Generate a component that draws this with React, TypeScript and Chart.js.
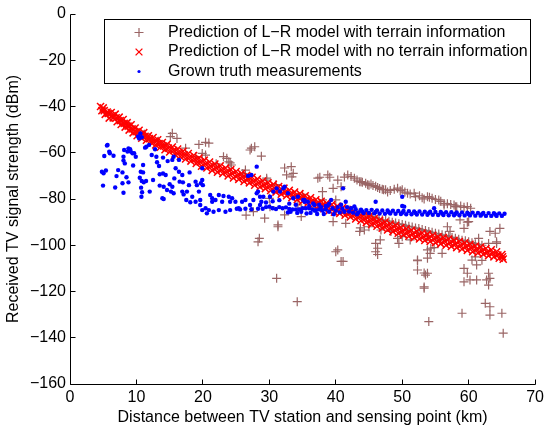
import React, { useEffect, useRef } from "react";
import { Chart, registerables } from "chart.js";
Chart.register(...registerables);

const xTicks = [0, 10, 20, 30, 40, 50, 60, 70];
const yTicks = [0, -20, -40, -60, -80, -100, -120, -140, -160];
const xTitle = "Distance between TV station and sensing point (km)";
const yTitle = "Received TV signal strength (dBm)";
const legendLabels = [
  "Prediction of L\u2212R model with terrain information",
  "Prediction of L\u2212R model with no terrain information",
  "Grown truth measurements",
];

// brown "+" : prediction with terrain information
const terrainPrediction: [number, number][] = [
  [5.3, -42.5], [6.2, -44], [7.3, -45.5], [8.1, -47.5], [9.0, -48.5], [10.0, -50.5], [11.2, -52], [12.0, -53.5], [13.3, -55], [14.2, -56.5],
  [15.1, -53.0], [16.1, -53.8], [15.4, -51.6], [17.4, -58.0], [19.4, -56.4], [18.9, -61.7], [20.4, -55.5], [20.9, -55.8], [19.9, -60.3], [20.4, -61],
  [23.1, -61.7], [23.6, -62.4], [23.9, -63.9], [24.1, -64.4], [24.3, -65.3], [26.4, -67.5], [27.1, -58.8], [27.8, -57.4], [27.3, -58.0], [28.8, -61.5],
  [29.6, -71.0], [29.6, -71.8], [32.3, -66.6], [33.3, -66], [33.6, -68.9], [32.6, -69.6], [33.4, -70.4], [37.3, -71], [37.6, -70.6], [39.1, -70.6],
  [38, -76.8], [39.6, -75.4], [40, -80.4], [38, -80.4], [38.8, -69.6], [40.3, -71.8], [40.8, -74.7],
  [22, -64.8], [26, -69], [31, -73.8], [35, -78], [37, -83.8],
  [30, -79.7], [30.1, -83.3], [27.6, -85.5], [26.5, -87], [29.3, -88.3], [32.3, -86.9], [31.3, -92], [31.3, -91.2], [34.8, -87.6], [34.3, -82.6],
  [34.8, -83.9], [28.3, -98.5], [28.5, -97], [39.6, -89.8], [41.5, -90.5], [40.3, -102], [40, -102.8], [41.1, -107], [40.8, -107], [31.1, -114.3], [34.2, -124.4],
  [41.8, -69.6], [42.8, -71], [43.6, -72.5], [43.8, -72.5], [44.5, -73.2], [45, -74], [45.3, -73.5], [46, -74.5], [46.6, -75.5], [47.2, -76],
  [47.8, -77], [47.5, -76], [49.3, -75.3], [50, -76], [50.8, -77.5], [51.8, -77.5], [52, -79], [53.3, -80], [53.8, -79], [54.5, -79.7],
  [55.5, -80.4], [56.3, -81.9], [56.3, -82.6], [57.8, -82.6], [58, -83.3], [58.2, -83.3], [59.8, -83.3],
  [41.3, -70.5], [42.3, -70.3], [43.2, -71.8], [44, -72.8], [44.8, -73.8], [45.6, -74.2], [46.3, -75], [47, -75.8], [48.2, -76.3], [48.8, -75.8],
  [49.7, -76.4], [50.4, -77], [51.2, -77.8], [52.6, -78.6], [53, -79.5], [54.1, -79.2], [55, -80.2], [55.8, -81], [56.8, -82], [57.3, -82.4],
  [58.8, -83], [59.3, -83.6], [60.3, -84],
  [42, -84.8], [43, -85.6], [44, -86.5], [45, -87.3], [46, -88], [47, -89], [48, -89.6], [49, -90.4], [50, -91], [51, -91.8],
  [52, -92.5], [53, -93.2], [54, -94], [55, -94.8], [56, -95.5], [57, -96.2], [58, -97], [59, -97.8], [60, -98.5], [61, -99.3], [62, -100],
  [42.5, -85.2], [43.5, -86], [44.5, -86.8], [45.5, -87.6], [46.5, -88.5], [47.5, -89.3], [48.5, -90], [49.5, -90.7], [50.5, -91.4], [51.5, -92.1],
  [52.5, -92.8], [53.5, -93.6], [54.5, -94.4], [55.5, -95.1], [56.5, -95.8], [57.5, -96.6], [58.5, -97.4], [59.5, -98.1], [60.5, -98.9], [61.5, -99.6],
  [43.7, -92.5], [43.6, -94], [45, -92], [46.7, -97.7], [49.3, -97], [49.5, -99.2], [46.3, -101.3], [46.3, -104], [46, -99.2], [46, -102.8],
  [44.3, -93.4], [46.8, -93.4], [48.3, -94], [50, -96.3], [51.2, -97.7], [50.8, -93.4], [52.3, -94.7], [53.8, -96.3], [55.7, -97.7], [56.8, -92],
  [57.2, -94], [58.7, -89], [59.8, -90], [60, -89.8], [59.3, -92.7], [64.7, -92.7], [64, -94.8], [63.2, -94], [64.2, -98.5], [61.5, -97],
  [63, -99.2], [64.2, -99.2],
  [54.3, -101.3], [53.8, -102], [56, -103.5], [54.8, -101], [52.3, -106.4], [52.3, -106.7], [53.8, -105.6], [54.2, -103.5], [52.3, -110.7], [53.5, -112.9],
  [53.3, -118], [53.3, -112], [53.8, -112.1], [53.3, -118.6], [59.3, -110], [59.8, -112.1], [60.5, -106.4], [61.2, -108.5], [61, -105], [62, -106.5],
  [61.2, -115], [59.3, -115.8], [62.7, -115], [63.2, -114.3], [63, -117.2], [63, -112.1], [60.2, -115], [62.5, -125.1], [63.2, -126.6], [63.2, -130.2],
  [65, -129.4], [59, -129.4], [54, -133], [65.2, -138],
];

// red "x" : prediction with no terrain information
const noTerrainPrediction: [number, number][] = [
  [4.6, -40.0], [4.8, -41.8],
  [5.0, -40.6], [5.3, -43.4], [5.6, -42.4], [5.9, -45.0], [6.2, -42.6], [6.5, -44.9], [6.8, -43.3], [7.1, -46.6], [7.4, -44.6], [7.7, -47.8],
  [8.0, -45.6], [8.3, -48.9], [8.6, -47.0], [8.9, -50.2], [9.2, -47.9], [9.5, -51.4], [9.8, -49.3], [10.1, -52.6], [10.4, -50.3], [10.8, -53.7],
  [11.1, -51.3], [11.5, -54.6], [11.8, -52.7], [12.2, -55.5], [12.5, -53.4], [12.9, -56.6], [13.2, -54.4], [13.6, -57.6], [13.9, -55.6], [14.3, -58.7],
  [14.6, -56.4], [15.0, -59.7], [15.4, -57.5], [15.8, -60.7], [16.2, -58.4], [16.6, -61.6], [17.0, -59.4], [17.4, -62.7], [17.8, -60.3], [18.2, -63.6],
  [18.6, -61.2], [19.0, -64.6], [19.4, -62.3], [19.8, -65.8], [20.2, -63.2], [20.6, -66.6], [21.0, -64.0], [21.4, -67.6], [21.8, -64.9], [22.2, -68.4],
  [22.6, -65.7], [23.0, -69.0], [23.4, -66.6], [23.8, -70.0], [24.2, -67.3], [24.6, -70.9], [25.0, -68.1], [25.4, -71.5], [25.8, -69.0], [26.2, -72.4],
  [26.6, -69.8], [27.0, -73.0], [27.4, -70.6], [27.8, -74.0], [28.2, -71.4], [28.6, -74.8], [29.0, -72.2], [29.4, -75.5], [29.8, -73.0], [30.2, -76.3],
  [30.6, -73.7], [31.0, -77.0], [31.4, -74.6], [31.8, -77.9], [32.2, -75.3], [32.6, -78.6], [33.0, -76.2], [33.4, -79.4], [33.8, -77.0], [34.2, -80.3],
  [34.6, -77.7], [35.0, -81.0], [35.4, -78.6], [35.8, -81.8], [36.2, -79.5], [36.6, -82.6], [37.0, -80.3], [37.4, -83.5], [37.8, -81.0], [38.2, -84.2],
  [38.6, -81.8], [39.0, -85.0], [39.4, -82.4], [39.8, -85.7], [40.2, -83.1], [40.6, -86.2], [41.0, -83.8], [41.4, -87.0], [41.8, -84.6], [42.2, -87.8],
  [42.6, -85.3], [43.0, -88.6], [43.4, -86.0], [43.8, -89.4], [44.2, -86.9], [44.6, -90.2], [45.0, -87.6], [45.4, -91.0], [45.8, -88.5], [46.2, -91.8],
  [46.6, -89.2], [47.0, -92.6], [47.4, -90.0], [47.8, -93.4], [48.2, -90.8], [48.6, -94.1], [49.0, -91.4], [49.4, -94.8], [49.8, -92.3], [50.2, -95.5],
  [50.6, -92.9], [51.0, -96.1], [51.4, -93.5], [51.8, -96.7], [52.2, -94.0], [52.6, -97.3], [53.0, -94.7], [53.4, -97.9], [53.8, -95.2], [54.2, -98.4],
  [54.6, -95.7], [55.0, -98.9], [55.4, -96.3], [55.8, -99.4], [56.2, -96.7], [56.6, -100.0], [57.0, -97.3], [57.4, -100.5], [57.8, -97.9], [58.2, -101.0],
  [58.6, -98.4], [59.0, -101.6], [59.4, -99.0], [59.8, -102.2], [60.2, -99.6], [60.6, -102.8], [61.0, -100.3], [61.4, -103.3], [61.8, -100.8], [62.2, -103.9],
  [62.6, -101.4], [63.0, -104.5], [63.4, -102.0], [63.8, -105.0], [64.2, -102.8], [64.6, -105.6], [65.0, -104.0], [65.2, -106.0],
  [5.15, -41.8], [5.75, -43.0], [6.35, -44.0], [6.95, -44.9], [7.55, -46.1], [8.15, -47.3], [8.75, -48.5], [9.35, -49.7], [9.95, -50.9], [10.6, -52.0],
  [11.3, -52.9], [11.95, -53.9], [12.7, -55.0], [13.4, -56.0], [14.1, -57.1], [14.8, -58.0], [15.6, -59.0], [16.4, -60.0], [17.2, -61.0], [18.0, -62.0],
  [18.8, -62.9], [19.6, -64.0], [20.4, -64.9], [21.2, -65.8], [22.0, -66.6], [22.8, -67.4], [23.6, -68.2], [24.4, -69.0], [25.2, -69.8], [26.0, -70.6],
  [26.8, -71.4], [27.6, -72.3], [28.4, -73.1], [29.2, -73.9], [30.0, -74.6], [30.8, -75.4], [31.6, -76.2], [32.4, -77.0], [33.2, -77.8], [34.0, -78.6],
  [34.8, -79.4], [35.6, -80.2], [36.4, -81.0], [37.2, -81.9], [38.0, -82.6], [38.8, -83.4], [39.6, -84.1], [40.4, -84.7], [41.2, -85.4], [42.0, -86.2],
  [42.8, -86.9], [43.6, -87.7], [44.4, -88.6], [45.2, -89.3], [46.0, -90.1], [46.8, -90.9], [47.6, -91.7], [48.4, -92.5], [49.2, -93.1], [50.0, -93.9],
  [50.8, -94.5], [51.6, -95.1], [52.4, -95.7], [53.2, -96.3], [54.0, -96.8], [54.8, -97.3], [55.6, -97.9], [56.4, -98.3], [57.2, -98.9], [58.0, -99.5],
  [58.8, -100.1], [59.6, -100.6], [60.4, -101.2], [61.2, -101.8], [62.0, -102.4], [62.8, -103.0], [63.6, -103.5], [64.4, -104.2], [65.1, -105.0],
];

// blue "." : ground truth measurements
const groundTruth: [number, number][] = [
  [4.8, -68.2], [5.05, -68.9], [5.4, -67.7], [4.97, -74.2], [5.56, -56.9], [5.16, -61.4], [6.0, -60.2], [6.55, -61.3], [5.65, -56.6], [5.9, -59.5],
  [7.0, -70.1], [7.25, -67.5], [7.9, -68.5], [8.05, -61.7], [8.05, -63.4], [8.25, -64.6], [7.9, -73.2], [8.05, -77.3], [8.5, -70.6], [8.8, -58.1],
  [9.05, -58.5], [9.65, -60.2], [9.9, -61.7], [8.8, -72.8], [9.15, -59.5], [8.15, -58.8], [8.65, -59.5], [9.4, -60.2],
  [11.0, -65.3], [10.65, -68.2], [11.0, -68.5], [10.5, -70.8], [10.8, -72.2], [11.1, -72.8], [10.7, -75.1], [10.85, -77.1], [10.75, -79], [11.45, -72.2],
  [12.0, -76.8], [12.5, -71.8], [11.3, -57.8], [10.25, -53], [10.8, -53.3], [10.4, -53.8], [10.6, -51.6], [11.5, -57.4], [11.9, -56.6],
  [12.3, -61], [13.0, -61.7], [13.4, -65.7], [13.1, -64.1], [13.5, -69.3], [14.0, -69], [14.4, -69.6], [14.0, -62.1], [14.7, -63.6], [15.4, -63.1],
  [15.6, -61.7], [16.4, -63.1], [15.9, -66.7], [16.4, -68.2], [16.9, -69.6], [16.5, -72.5], [17.0, -72.8], [15.7, -71.1], [15.0, -73.6], [15.4, -74.7],
  [14.1, -74.7], [13.5, -74.2], [14.6, -76.1], [13.9, -79.7], [14.1, -80], [15.2, -76.8], [15.6, -77.5], [16.9, -76.8], [17.1, -78], [17.5, -80.4],
  [17.6, -76.8], [17.9, -74], [18.0, -68.5], [18.4, -79], [18.1, -81.4], [18.9, -72.5], [19.1, -74], [19.4, -76.8], [19.6, -82.6], [19.9, -84.8],
  [18.9, -81.2], [12.8, -58.5], [9.5, -65.5], [6.8, -75],
  [19.9, -71.8], [20, -74], [19.6, -80.4], [20.4, -84], [20.6, -86.2], [21.1, -78.3], [21.4, -79.7], [21.9, -80.4], [21.4, -81.2], [22.4, -78.3],
  [23.1, -78.7], [22.9, -81.2], [20.9, -84.8], [21.6, -85.5], [22.4, -84.8], [23.4, -85.5], [24.1, -84.8], [25.1, -84.2], [25.6, -84.5], [26.4, -84.2],
  [27.3, -84.4], [28.3, -84.2], [23.9, -79], [24.1, -81.2], [24.4, -79.7], [24.9, -81.2], [25.9, -81.2], [26.4, -80.4], [27.1, -82.6], [27.6, -80.4],
  [25.4, -84], [28.1, -77.5], [28.3, -76.8], [28.6, -79], [28.8, -81.2], [28.6, -82.6], [28.1, -66], [26.8, -70], [27.3, -69.6], [19.9, -66.7], [19.7, -73.2],
  [29.0, -84.2], [29.5, -83.5], [30.0, -83.3], [30.5, -84.0], [31.0, -84.3], [31.5, -83.5], [32.0, -84.0], [32.5, -83.6], [33.0, -84.3], [33.5, -84.5],
  [34.0, -84.5], [34.5, -84.5], [35.0, -84.0], [35.5, -84.0], [36.0, -84.0], [36.5, -84.5], [37.0, -85.0], [37.5, -84.5], [38.0, -85.0],
  [29.1, -79], [30.1, -79], [30.6, -76.8], [31.1, -75.4], [31.6, -76.8], [32.1, -75.4], [32.3, -74.7], [32.8, -77.5], [33.6, -79.7], [34.3, -79],
  [35.1, -80.4], [35.3, -81.2], [35.8, -81.2], [36.6, -81.9], [36.8, -82.6],
  [30.5, -81], [31.5, -80.5], [33, -82], [34, -82.5], [36, -83], [37.5, -82.5], [38.5, -83], [39, -82], [29.5, -81.5],
  [36.2, -86], [36.8, -85], [37.2, -86.5], [37.8, -83.5], [38.2, -86.5], [38.8, -82.8], [39.7, -86.6], [40.8, -82.5], [42.8, -83.2], [43.2, -86.6],
  [35.6, -86.3], [34.8, -85.5], [34.2, -86], [33.2, -85.5], [32.8, -85.8], [35.3, -80.4],
  [38.5, -84.5], [39, -85.5], [39.3, -80.4], [39.5, -84], [40, -85], [40.3, -83.5], [40.6, -85.8], [41, -84.2], [41.1, -75.4], [41.3, -85.5],
  [41.5, -81.2], [41.7, -83.5], [46, -81.2], [50, -83], [50, -79], [50.3, -83.3], [54.8, -84],
  [42, -85.4], [42.3, -84.0], [42.6, -85.9], [43, -84.4], [43.4, -85.8], [43.8, -84.6], [44.2, -86.1], [44.6, -84.8], [45, -86.0], [45.4, -84.7],
  [45.8, -86.2], [46.2, -84.9], [46.6, -86.3], [47, -85.0], [47.4, -86.4], [47.8, -85.0], [48.2, -86.3], [48.6, -85.1], [49, -86.4], [49.4, -85.2],
  [49.8, -86.5], [50.2, -85.2], [50.6, -86.6], [51, -85.3], [51.4, -86.6], [51.8, -85.4], [52.2, -86.7], [52.6, -85.4], [53, -86.7], [53.4, -85.5],
  [53.8, -86.8], [54.2, -85.5], [54.6, -86.8], [55, -85.6], [55.4, -86.9], [55.8, -85.6], [56.2, -86.9], [56.6, -85.7], [57, -87.0], [57.4, -85.7],
  [57.8, -87.0], [58.2, -85.8], [58.6, -87.0], [59, -85.8], [59.4, -87.1], [59.8, -85.9], [60.2, -87.1], [60.6, -85.9], [61, -87.2], [61.4, -86.0],
  [61.8, -87.2], [62.2, -86.0], [62.6, -87.3], [63, -86.1], [63.4, -87.3], [63.8, -86.1], [64.2, -87.3], [64.6, -86.2], [65, -87.3], [65.4, -86.4],
  [44.0, -85.4], [46.0, -85.6], [48.0, -85.7], [50.0, -85.9], [52.0, -86.0], [54.0, -86.1], [56.0, -86.3], [58.0, -86.4], [60.0, -86.5], [62.0, -86.6], [64.0, -86.7],
];

const FONT = "'Liberation Sans', Arial, Helvetica, sans-serif";
const BROWN = "#9a6565";
const RED = "#ff0000";
const BLUE = "#0000ff";

const toXY = (arr: [number, number][]) => arr.map(([x, y]) => ({ x, y }));
const fmtTick = (v: number) => (v < 0 ? "\u2212" + Math.abs(v) : String(v));

const axesAndLegend = {
  id: "matlabAxesLegend",
  afterDatasetsDraw(chart: any) {
    const { ctx, chartArea } = chart;
    const xs = chart.scales.x;
    const ys = chart.scales.y;
    const L = Math.floor(chartArea.left) + 0.5;
    const B = Math.floor(chartArea.bottom) + 0.5;
    ctx.save();
    ctx.strokeStyle = "#000";
    ctx.lineWidth = 1;
    ctx.beginPath();
    ctx.moveTo(L, Math.floor(chartArea.top) + 0.5);
    ctx.lineTo(L, B);
    ctx.lineTo(Math.floor(chartArea.right) + 0.5, B);
    for (const v of yTicks) {
      const py = Math.floor(ys.getPixelForValue(v)) + 0.5;
      ctx.moveTo(L, py);
      ctx.lineTo(L + 5, py);
    }
    for (const v of xTicks) {
      const px = Math.floor(xs.getPixelForValue(v)) + 0.5;
      ctx.moveTo(px, B);
      ctx.lineTo(px, B - 5);
    }
    ctx.stroke();
    ctx.restore();
  },
  afterDraw(chart: any) {
    const { ctx } = chart;
    ctx.save();
    const bx = 104, by = 19, bw = 426, bh = 64;
    ctx.fillStyle = "#fff";
    ctx.fillRect(bx, by, bw, bh);
    ctx.strokeStyle = "#000";
    ctx.lineWidth = 1;
    ctx.strokeRect(bx + 0.5, by + 0.5, bw, bh);
    const rows = [32.5, 52, 71.5];
    const mx = 139;
    ctx.strokeStyle = BROWN;
    ctx.lineWidth = 1.2;
    ctx.beginPath();
    ctx.moveTo(mx - 4.5, rows[0]); ctx.lineTo(mx + 4.5, rows[0]);
    ctx.moveTo(mx, rows[0] - 4.5); ctx.lineTo(mx, rows[0] + 4.5);
    ctx.stroke();
    ctx.strokeStyle = RED;
    ctx.lineWidth = 1.3;
    ctx.beginPath();
    ctx.moveTo(mx - 3.4, rows[1] - 3.4); ctx.lineTo(mx + 3.4, rows[1] + 3.4);
    ctx.moveTo(mx + 3.4, rows[1] - 3.4); ctx.lineTo(mx - 3.4, rows[1] + 3.4);
    ctx.stroke();
    ctx.fillStyle = BLUE;
    ctx.beginPath();
    ctx.arc(mx, rows[2], 1.6, 0, Math.PI * 2);
    ctx.fill();
    ctx.fillStyle = "#000";
    ctx.font = `16px ${FONT}`;
    ctx.textBaseline = "middle";
    ctx.textAlign = "left";
    legendLabels.forEach((t, i) => ctx.fillText(t, 168, rows[i]));
    ctx.restore();
  },
};

export default function App() {
  const ref = useRef<HTMLCanvasElement | null>(null);
  useEffect(() => {
    if (!ref.current) return;
    const chart = new Chart(ref.current, {
      type: "scatter",
      data: {
        datasets: [
          {
            label: legendLabels[2],
            data: toXY(groundTruth),
            pointStyle: "circle",
            pointRadius: 2.2,
            pointBorderWidth: 0,
            backgroundColor: BLUE,
            borderColor: BLUE,
            order: 1,
          },
          {
            label: legendLabels[1],
            data: toXY(noTerrainPrediction),
            pointStyle: "crossRot",
            pointRadius: 5,
            pointBorderWidth: 1.5,
            borderColor: RED,
            backgroundColor: RED,
            order: 2,
          },
          {
            label: legendLabels[0],
            data: toXY(terrainPrediction),
            pointStyle: "cross",
            pointRadius: 4.5,
            pointBorderWidth: 1.2,
            borderColor: BROWN,
            backgroundColor: BROWN,
            order: 3,
          },
        ],
      },
      options: {
        animation: false,
        responsive: false,
        events: [],
        layout: { padding: { top: 14, right: 10, left: 0, bottom: 0 } },
        plugins: { legend: { display: false }, tooltip: { enabled: false } },
        scales: {
          x: {
            type: "linear",
            min: 0,
            max: 70,
            afterBuildTicks: (s: any) => { s.ticks = xTicks.map((v) => ({ value: v })); },
            afterFit: (s: any) => { s.height = 46; },
            grid: { display: false, drawTicks: false },
            border: { display: false },
            ticks: { color: "#000", font: { family: FONT, size: 16 }, padding: 4, maxRotation: 0, callback: (v: any) => fmtTick(Number(v)) },
            title: { display: true, text: xTitle, color: "#000", font: { family: FONT, size: 16 }, padding: { top: 0, bottom: 3 } },
          },
          y: {
            type: "linear",
            min: -160,
            max: 0,
            afterBuildTicks: (s: any) => { s.ticks = yTicks.map((v) => ({ value: v })); },
            afterFit: (s: any) => { s.width = 70; },
            grid: { display: false, drawTicks: false },
            border: { display: false },
            ticks: { color: "#000", font: { family: FONT, size: 16 }, padding: 4, callback: (v: any) => fmtTick(Number(v)) },
            title: { display: true, text: yTitle, color: "#000", font: { family: FONT, size: 16 }, padding: { top: 4, bottom: 0 } },
          },
        },
      },
      plugins: [axesAndLegend],
    } as any);
    return () => chart.destroy();
  }, []);
  return (
    <div style={{ position: "absolute", left: 0, top: 0, width: 548, height: 430, background: "#fff" }}>
      <canvas ref={ref} width={548} height={430} style={{ display: "block" }} />
    </div>
  );
}
